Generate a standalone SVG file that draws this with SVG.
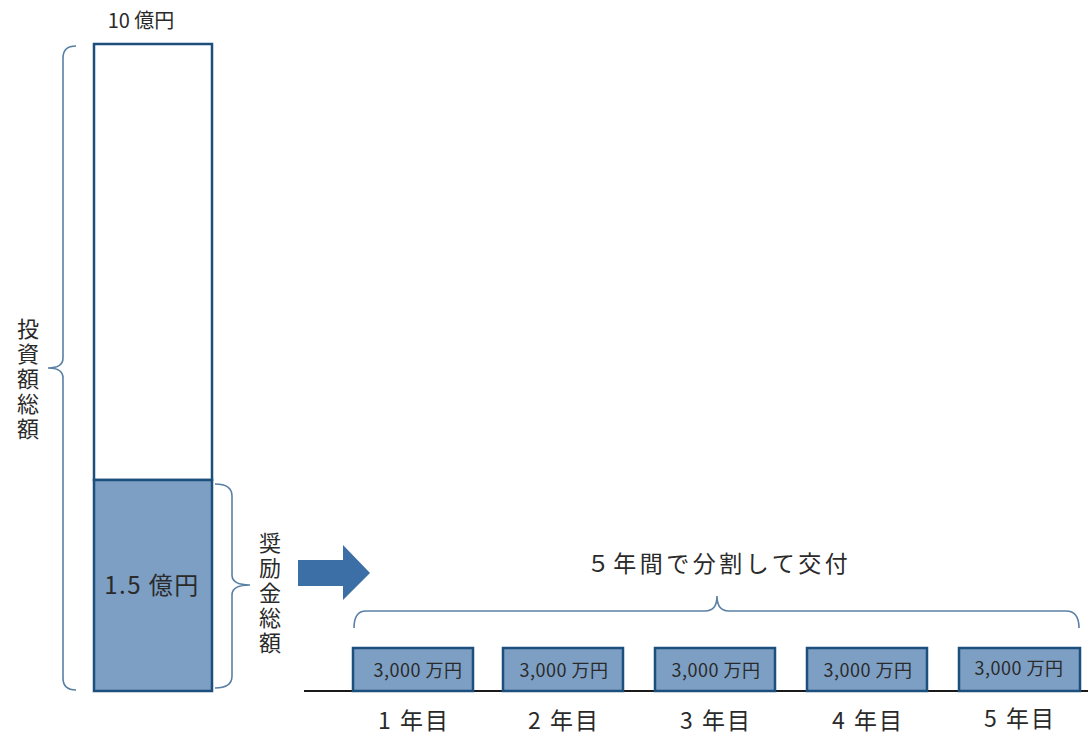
<svg xmlns="http://www.w3.org/2000/svg" width="1088" height="737" viewBox="0 0 1088 737">
<style>
.t{font-family:"Noto Sans CJK JP","Noto Sans",sans-serif;fill:#2a2a2a}
.brace{fill:none;stroke:#5a80a6;stroke-width:1.6}
.bar{stroke:#1d4f7c;stroke-width:2.5}
.box{fill:#7d9fc4;stroke:#1d4f7c;stroke-width:2.5}
.bl{font-size:18px;text-anchor:middle;letter-spacing:0.5px}
.yr{font-size:23px;text-anchor:middle;letter-spacing:2px}
.vt{font-size:22px;writing-mode:vertical-rl;letter-spacing:3px}
</style>
<rect width="1088" height="737" fill="#ffffff"/>
<g id="bar-total">
<rect class="bar" x="94" y="44" width="118" height="436" fill="#ffffff"/>
<text class="t" x="141" y="28" font-size="20" text-anchor="middle">10 億円</text>
</g>
<g id="bar-incentive">
<rect class="bar" x="94" y="480" width="118" height="211" fill="#7d9fc4"/>
<text class="t" x="152" y="594" font-size="24" text-anchor="middle" letter-spacing="1.5">1.5 億円</text>
</g>
<g id="label-total">
<text class="t vt" x="28" y="318">投資額総額</text>
</g>
<g id="label-incentive">
<text class="t vt" x="270" y="532">奨励金総額</text>
</g>
<g id="label-split">
<text class="t" x="719" y="572" font-size="23" text-anchor="middle" letter-spacing="3.5">５年間で分割して交付</text>
</g>
<g id="connectors">
<path class="brace" d="M76,46 Q63,46 63,58 L63,358 Q63,368 48,368 Q63,368 63,378 L63,678 Q63,690 76,690"/>
<path class="brace" d="M215,484 Q232,484 232,496 L232,575 Q232,585 250,585 Q232,585 232,595 L232,676 Q232,688 215,688"/>
<path class="brace" d="M354,628 Q354,611 366,611 L705,611 Q717,611 717,596 Q717,611 729,611 L1066,611 Q1079,611 1079,628"/>
<path d="M298,560 L343,560 L343,545 L370,573 L343,600 L343,586 L298,586 Z" fill="#3b6fa6"/>
<line x1="304" y1="691" x2="1088" y2="691" stroke="#1a1a1a" stroke-width="2"/>
</g>
<g id="year1">
<rect class="box" x="353" y="648" width="120" height="43"/>
<text class="t bl" x="418" y="677">3,000 万円</text>
<text class="t yr" x="414" y="729">1 年目</text>
</g>
<g id="year2">
<rect class="box" x="503" y="648" width="120" height="43"/>
<text class="t bl" x="564" y="677">3,000 万円</text>
<text class="t yr" x="564" y="729">2 年目</text>
</g>
<g id="year3">
<rect class="box" x="655" y="648" width="120" height="43"/>
<text class="t bl" x="716" y="677">3,000 万円</text>
<text class="t yr" x="716" y="729">3 年目</text>
</g>
<g id="year4">
<rect class="box" x="807" y="648" width="120" height="43"/>
<text class="t bl" x="868" y="677">3,000 万円</text>
<text class="t yr" x="868" y="729">4 年目</text>
</g>
<g id="year5">
<rect class="box" x="959" y="648" width="121" height="43"/>
<text class="t bl" x="1019" y="675">3,000 万円</text>
<text class="t yr" x="1020" y="727">5 年目</text>
</g>
</svg>
